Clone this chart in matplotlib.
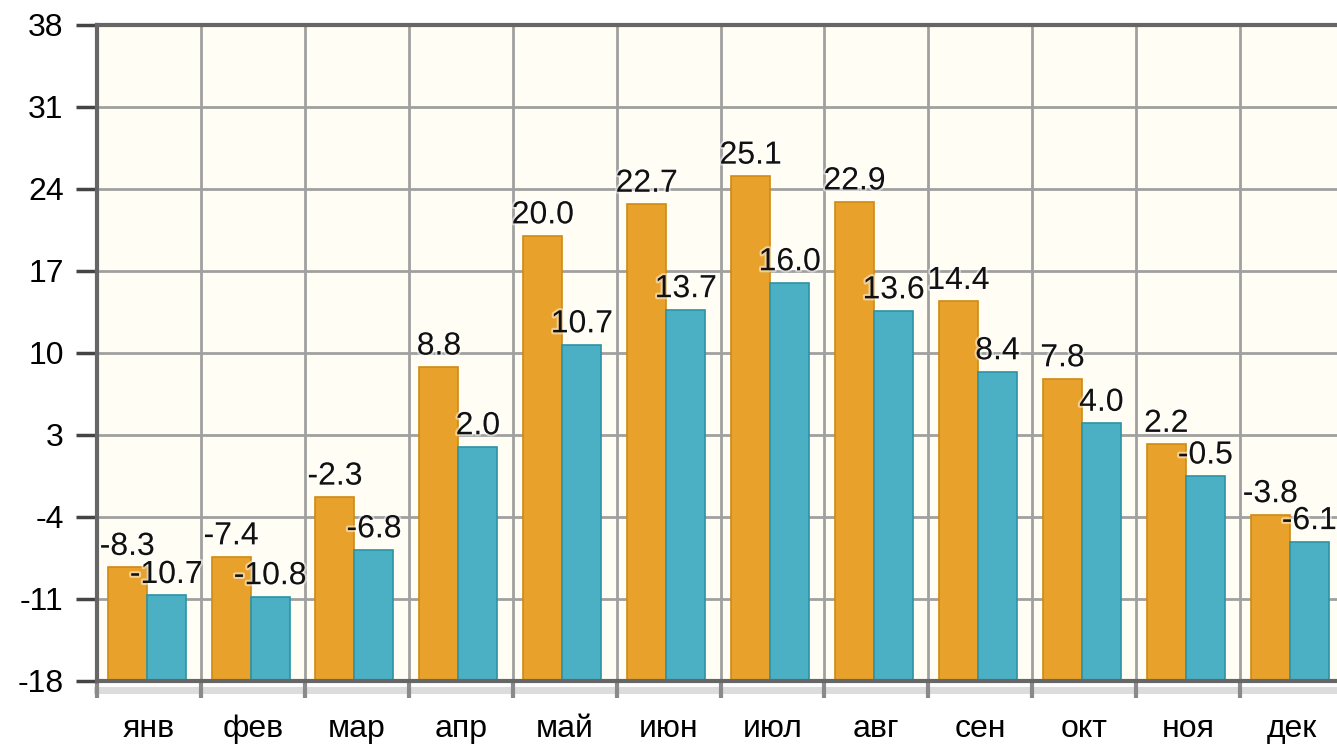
import matplotlib
matplotlib.use('Agg')
import matplotlib.pyplot as plt
import matplotlib.patheffects as pe
from matplotlib.lines import Line2D
import numpy as np

months = ['янв', 'фев', 'мар', 'апр', 'май', 'июн', 'июл', 'авг', 'сен', 'окт', 'ноя', 'дек']
t_max = [-8.3, -7.4, -2.3, 8.8, 20.0, 22.7, 25.1, 22.9, 14.4, 7.8, 2.2, -3.8]
t_min = [-10.7, -10.8, -6.8, 2.0, 10.7, 13.7, 16.0, 13.6, 8.4, 4.0, -0.5, -6.1]
y_ticks = [-18, -11, -4, 3, 10, 17, 24, 31, 38]

plt.rcParams['font.family'] = ['Liberation Sans', 'DejaVu Sans']
plt.rcParams['axes.unicode_minus'] = False

W, H = 1337, 745
fig = plt.figure(figsize=(W / 100, H / 100), dpi=100)
ax = fig.add_axes([97 / W, (H - 681) / H, 1247 / W, 656 / H])
ax.set_facecolor('#fffdf4')

x = np.arange(len(months))
y0 = y_ticks[0]
bw = 0.375
orange_x = x - 0.21
teal_x = x + 0.165

ax.bar(orange_x, np.array(t_max) - y0, bw, bottom=y0, color='#e8a22b',
       edgecolor='#cf8a14', linewidth=1.2, zorder=3)
ax.bar(teal_x, np.array(t_min) - y0, bw, bottom=y0, color='#4bb0c4',
       edgecolor='#2c93a6', linewidth=1.2, zorder=3)

halo = [pe.withStroke(linewidth=3, foreground='white', alpha=0.5)]
for xs, vals in ((orange_x, t_max), (teal_x, t_min)):
    for xi, v in zip(xs, vals):
        ax.annotate(f'{v:.1f}', (xi, v), xytext=(0, 9), textcoords='offset points',
                    ha='center', va='baseline', fontsize=23, color='#111111',
                    path_effects=halo, zorder=5)

ax.set_xlim(-0.5, 11.5)
ax.set_ylim(-18, 38)
ax.set_yticks(y_ticks)
ax.set_xticks(x)
ax.set_xticklabels(months)
ax.set_xticks(np.arange(-0.5, 12, 1), minor=True)

ax.grid(True, axis='y', color='#a0a0a0', linewidth=2, zorder=1)
ax.grid(True, axis='x', which='minor', color='#a0a0a0', linewidth=2, zorder=1)
ax.set_axisbelow(True)

ax.tick_params(axis='y', length=15, width=2.5, color='#444444', pad=9, labelsize=23)
ax.tick_params(axis='x', which='major', length=0, pad=24, labelsize=23)
ax.tick_params(axis='x', which='minor', length=12, width=3, color='#8a8a8a')

for side in ('left', 'top', 'bottom'):
    ax.spines[side].set_color('#666666')
    ax.spines[side].set_linewidth(3)
    ax.spines[side].set_zorder(4)
ax.spines['right'].set_visible(False)

# light shadow under the bottom axis, kept below the tick marks
ax.add_line(Line2D([0, 1], [-0.013, -0.013], transform=ax.transAxes,
                   color='#dcdcdc', linewidth=5, clip_on=False, zorder=0.3))

fig.savefig('out.png', dpi=100)
